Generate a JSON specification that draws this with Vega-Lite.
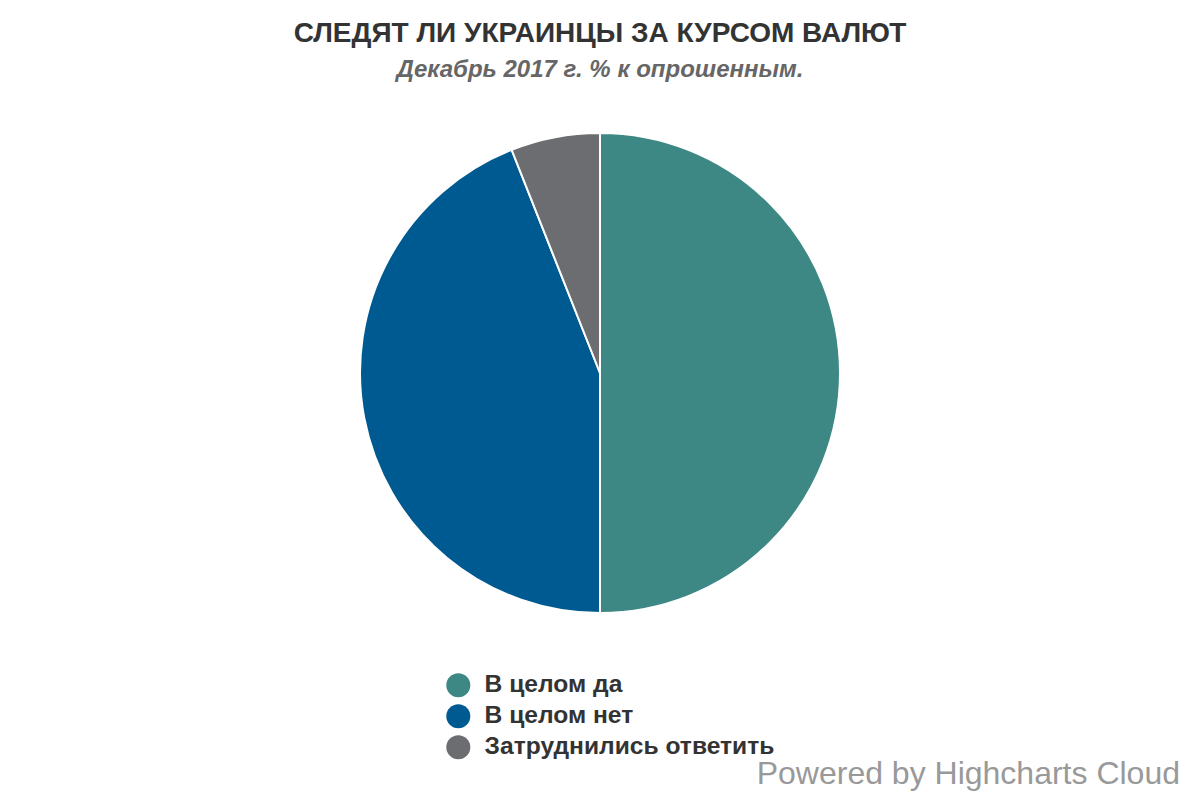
{
  "$schema": "https://vega.github.io/schema/vega-lite/v6.json",
  "width": 1200,
  "height": 546,
  "autosize": {"type": "none"},
  "padding": {"top": 100, "left": 0, "right": 0, "bottom": 154},
  "background": "#ffffff",
  "title": {
    "text": "СЛЕДЯТ ЛИ УКРАИНЦЫ ЗА КУРСОМ ВАЛЮТ",
    "subtitle": "Декабрь 2017 г. % к опрошенным.",
    "anchor": "middle",
    "font": "Liberation Sans",
    "fontSize": 28,
    "fontWeight": "bold",
    "color": "#333333",
    "subtitleFont": "Liberation Sans",
    "subtitleFontSize": 24,
    "subtitleFontWeight": "bold",
    "subtitleFontStyle": "italic",
    "subtitleColor": "#666666",
    "subtitlePadding": 10,
    "offset": 18
  },
  "data": {
    "values": [
      {"answer": "В целом да", "share": 50, "order": 1},
      {"answer": "В целом нет", "share": 44, "order": 2},
      {"answer": "Затруднились ответить", "share": 6, "order": 3}
    ]
  },
  "layer": [
    {
      "mark": {"type": "arc", "outerRadius": 240, "stroke": "#ffffff", "strokeWidth": 2},
      "encoding": {
        "theta": {"field": "share", "type": "quantitative", "stack": true},
        "order": {"field": "order", "type": "quantitative"},
        "color": {
          "field": "answer",
          "type": "nominal",
          "sort": ["В целом да", "В целом нет", "Затруднились ответить"],
          "scale": {
            "domain": ["В целом да", "В целом нет", "Затруднились ответить"],
            "range": ["#3d8884", "#005a92", "#6c6d71"]
          },
          "legend": {
            "title": null,
            "orient": "none",
            "legendX": 446,
            "legendY": 573,
            "direction": "vertical",
            "symbolType": "circle",
            "symbolSize": 576,
            "symbolStrokeWidth": 0,
            "labelFont": "Liberation Sans",
            "labelFontSize": 24.6,
            "labelFontWeight": "bold",
            "labelColor": "#333333",
            "labelOffset": 14,
            "labelLimit": 400,
            "rowPadding": 5
          }
        }
      }
    },
    {
      "data": {"values": [{"credit": "Powered by Highcharts Cloud"}]},
      "mark": {
        "type": "text",
        "x": {"expr": "width - 20"},
        "y": {"expr": "height + 138"},
        "align": "right",
        "baseline": "alphabetic",
        "font": "Liberation Sans",
        "fontSize": 32,
        "color": "#999999"
      },
      "encoding": {"text": {"field": "credit", "type": "nominal"}}
    }
  ],
  "config": {"view": {"stroke": null}}
}
